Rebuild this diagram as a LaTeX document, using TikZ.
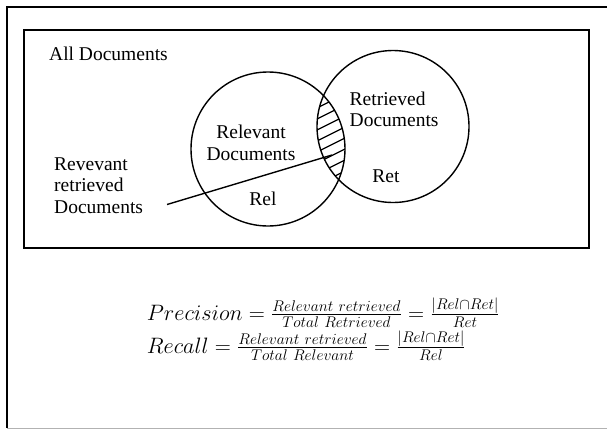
\documentclass[tikz,border=0pt]{standalone}
\usepackage{fontspec}
\setmainfont{Liberation Serif}
\usepackage{tikz}
\usetikzlibrary{positioning}

\begin{document}
\begin{tikzpicture}[x=1pt, y=-1pt,
  venn/.style={draw, circle, line width=1.4pt, inner sep=0pt},
  doctext/.style={inner sep=0pt, font=\fontsize{19.5}{21.5}\selectfont},
  formula/.style={inner sep=0pt, scale=1.075, transform shape, font=\fontsize{20}{24}\selectfont}]
  \useasboundingbox (0,0) rectangle (607,429);
  % frames
  \draw[line width=1.5pt] (607,7) -- (7,7) -- (7,428);
  \draw[line width=1pt, gray!60] (7,428) -- (607,428);
  \draw[line width=1.8pt] (24,30) rectangle (589,248);

  \node[venn, minimum size=154pt] (relcirc) at (268,149) {};
  \node[venn, minimum size=152pt] (retcirc) at (393,126.5) {};

  % hatched overlap
  \begin{scope}
    \clip (relcirc.center) circle (77);
    \clip (retcirc.center) circle (76);
    \foreach \k in {0,...,10}
      \draw[line width=1.3pt] (305,92+11*\k) -- ++(50,-25);
  \end{scope}

  \node[doctext, anchor=base west] (alldocs) at (49,60.7) {All Documents};
  \node[doctext, align=center, anchor=north] (reltext) at (251,125) {Relevant\\Documents};
  \node[doctext, align=left, anchor=north west] (rettext) at (349.5,91.7) {Retrieved\\Documents};
  \node[doctext, anchor=base] (rel) at (263,205.7) {Rel};
  \node[doctext, anchor=base] (ret) at (386,182.3) {Ret};
  \node[doctext, align=left, anchor=north west] (revtext) at (54,157.4) {Revevant\\retrieved\\Documents};

  \coordinate (revtail) at (167,204.5);
  \coordinate (lenspt) at (332,155);
  \draw[line width=1.4pt] (revtail) -- (lenspt);

  \node[formula, anchor=base west] (preceq) at (146.7,320)
    {$Precision = \frac{Relevant\ retrieved}{Total\ Retrieved} = \frac{|Rel\cap Ret|}{Ret}$};
  \node[formula, anchor=base west] (receq) at (146.7,353)
    {$Recall = \frac{Relevant\ retrieved}{Total\ Relevant} = \frac{|Rel\cap Ret|}{Rel}$};
\end{tikzpicture}
\end{document}
